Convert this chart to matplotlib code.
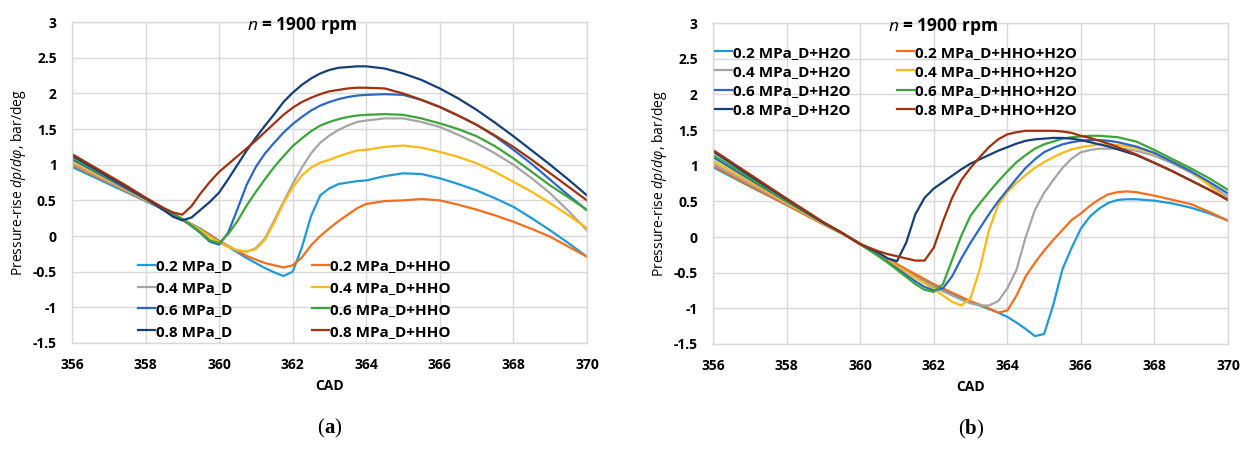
import matplotlib
matplotlib.use("Agg")
import matplotlib.pyplot as plt
from matplotlib.offsetbox import TextArea, HPacker, AnchoredOffsetbox

plt.rcParams["font.family"] = ["Open Sans", "DejaVu Sans"]
plt.rcParams["mathtext.fontset"] = "custom"
plt.rcParams["mathtext.rm"] = "Open Sans"
plt.rcParams["mathtext.it"] = "Open Sans:italic"
plt.rcParams["mathtext.bf"] = "Open Sans:bold"

# ---- (a) diesel vs diesel+HHO ----
cad_a = [356, 356.5, 357, 357.5, 358, 358.5, 358.75, 359, 359.25, 359.5, 359.75,
         360, 360.25, 360.5, 360.75, 361, 361.25, 361.5, 361.75, 362, 362.25, 362.5,
         362.75, 363, 363.25, 363.5, 363.75, 364, 364.5, 365, 365.5, 366, 366.5, 367,
         367.5, 368, 368.5, 369, 369.5, 370]

a_d02 = [0.97, 0.85, 0.73, 0.61, 0.49, 0.37, 0.30, 0.23, 0.17, 0.10, 0.02,
         -0.07, -0.15, -0.23, -0.31, -0.38, -0.45, -0.51, -0.56, -0.50, -0.16, 0.28,
         0.57, 0.67, 0.73, 0.75, 0.77, 0.78, 0.84, 0.88, 0.87, 0.81, 0.73, 0.64,
         0.53, 0.41, 0.25, 0.08, -0.10, -0.29]
a_h02 = [1.00, 0.87, 0.75, 0.62, 0.50, 0.37, 0.30, 0.23, 0.16, 0.09, 0.01,
         -0.07, -0.14, -0.21, -0.28, -0.33, -0.38, -0.41, -0.44, -0.41, -0.30, -0.13,
         0.00, 0.11, 0.21, 0.30, 0.39, 0.45, 0.49, 0.50, 0.52, 0.50, 0.44, 0.37,
         0.29, 0.20, 0.10, -0.01, -0.15, -0.29]
a_d04 = [1.02, 0.89, 0.76, 0.63, 0.50, 0.37, 0.30, 0.23, 0.16, 0.08, -0.01,
         -0.09, -0.15, -0.20, -0.22, -0.17, -0.03, 0.22, 0.48, 0.73, 0.96, 1.16,
         1.31, 1.41, 1.49, 1.55, 1.60, 1.62, 1.65, 1.65, 1.60, 1.53, 1.42, 1.30,
         1.16, 1.00, 0.81, 0.60, 0.35, 0.08]
a_h04 = [1.05, 0.91, 0.78, 0.65, 0.51, 0.38, 0.31, 0.24, 0.16, 0.08, -0.01,
         -0.09, -0.15, -0.20, -0.22, -0.18, -0.05, 0.19, 0.46, 0.68, 0.85, 0.96,
         1.03, 1.07, 1.12, 1.16, 1.20, 1.21, 1.25, 1.27, 1.24, 1.18, 1.11, 1.02,
         0.90, 0.76, 0.62, 0.46, 0.29, 0.11]
a_d06 = [1.08, 0.94, 0.80, 0.66, 0.52, 0.38, 0.31, 0.23, 0.14, 0.04, -0.08,
         -0.12, 0.05, 0.38, 0.72, 0.97, 1.16, 1.31, 1.45, 1.57, 1.67, 1.76,
         1.83, 1.88, 1.92, 1.95, 1.97, 1.98, 1.99, 1.98, 1.91, 1.81, 1.69, 1.56,
         1.40, 1.21, 1.01, 0.79, 0.57, 0.36]
a_h06 = [1.10, 0.96, 0.82, 0.68, 0.53, 0.39, 0.32, 0.24, 0.15, 0.05, -0.06,
         -0.10, 0.03, 0.21, 0.43, 0.62, 0.80, 0.97, 1.12, 1.26, 1.37, 1.47,
         1.55, 1.60, 1.64, 1.67, 1.69, 1.70, 1.71, 1.70, 1.65, 1.58, 1.50, 1.40,
         1.26, 1.09, 0.90, 0.71, 0.54, 0.37]
a_d08 = [1.13, 0.98, 0.83, 0.68, 0.53, 0.36, 0.27, 0.22, 0.26, 0.37, 0.48,
         0.61, 0.80, 1.00, 1.20, 1.38, 1.55, 1.71, 1.88, 2.01, 2.12, 2.21,
         2.28, 2.33, 2.36, 2.37, 2.38, 2.38, 2.35, 2.28, 2.19, 2.07, 1.93, 1.77,
         1.59, 1.40, 1.20, 1.00, 0.79, 0.57]
a_h08 = [1.15, 1.00, 0.85, 0.70, 0.54, 0.39, 0.33, 0.30, 0.42, 0.60, 0.76,
         0.90, 1.01, 1.12, 1.23, 1.34, 1.46, 1.58, 1.70, 1.80, 1.88, 1.94,
         1.99, 2.03, 2.05, 2.07, 2.08, 2.08, 2.07, 2.00, 1.91, 1.81, 1.69, 1.56,
         1.41, 1.25, 1.07, 0.88, 0.69, 0.50]

# ---- (b) with water injection ----
cad_b = [356, 357, 358, 359, 359.5, 360, 360.5, 360.75, 361, 361.25, 361.5, 361.75,
         362, 362.25, 362.5, 362.75, 363, 363.25, 363.5, 363.75, 364, 364.25, 364.5,
         364.75, 365, 365.25, 365.5, 365.75, 366, 366.25, 366.5, 366.75, 367, 367.25,
         367.5, 368, 368.5, 369, 369.5, 370]

b_d02 = [0.98, 0.71, 0.45, 0.18, 0.05, -0.09, -0.25, -0.33, -0.40, -0.47, -0.55, -0.62,
         -0.69, -0.75, -0.80, -0.86, -0.91, -0.96, -1.01, -1.06, -1.12, -1.20, -1.29,
         -1.39, -1.36, -0.95, -0.45, -0.15, 0.12, 0.29, 0.40, 0.48, 0.52, 0.53,
         0.53, 0.51, 0.47, 0.41, 0.33, 0.23]
b_h02 = [1.00, 0.72, 0.45, 0.18, 0.05, -0.09, -0.24, -0.31, -0.38, -0.45, -0.52, -0.59,
         -0.66, -0.72, -0.78, -0.84, -0.90, -0.95, -1.00, -1.06, -1.03, -0.82, -0.55,
         -0.36, -0.19, -0.04, 0.10, 0.24, 0.33, 0.44, 0.53, 0.60, 0.63, 0.64,
         0.63, 0.58, 0.52, 0.46, 0.35, 0.23]
b_d04 = [1.03, 0.75, 0.47, 0.19, 0.05, -0.09, -0.25, -0.33, -0.41, -0.48, -0.56, -0.63,
         -0.70, -0.76, -0.82, -0.88, -0.93, -0.96, -0.96, -0.90, -0.72, -0.46, 0.00,
         0.38, 0.62, 0.80, 0.97, 1.10, 1.19, 1.22, 1.24, 1.24, 1.24, 1.23,
         1.21, 1.14, 1.03, 0.90, 0.74, 0.56]
b_h04 = [1.07, 0.78, 0.48, 0.19, 0.05, -0.09, -0.25, -0.33, -0.41, -0.49, -0.57, -0.65,
         -0.73, -0.82, -0.91, -0.96, -0.86, -0.45, 0.10, 0.45, 0.63, 0.76, 0.87,
         0.97, 1.05, 1.12, 1.18, 1.23, 1.26, 1.28, 1.30, 1.30, 1.29, 1.27,
         1.25, 1.17, 1.06, 0.92, 0.72, 0.51]
b_d06 = [1.12, 0.81, 0.50, 0.20, 0.06, -0.10, -0.26, -0.35, -0.44, -0.53, -0.62, -0.70,
         -0.75, -0.72, -0.55, -0.30, -0.08, 0.12, 0.32, 0.50, 0.66, 0.82, 0.97,
         1.09, 1.19, 1.25, 1.30, 1.33, 1.35, 1.36, 1.36, 1.35, 1.33, 1.30,
         1.27, 1.18, 1.05, 0.92, 0.77, 0.61]
b_h06 = [1.15, 0.83, 0.51, 0.20, 0.06, -0.10, -0.27, -0.36, -0.46, -0.56, -0.66, -0.74,
         -0.77, -0.66, -0.32, 0.02, 0.30, 0.47, 0.63, 0.78, 0.92, 1.05, 1.15,
         1.24, 1.30, 1.34, 1.38, 1.40, 1.41, 1.42, 1.42, 1.41, 1.40, 1.37,
         1.34, 1.22, 1.09, 0.96, 0.82, 0.66]
b_d08 = [1.20, 0.86, 0.53, 0.20, 0.06, -0.10, -0.22, -0.30, -0.34, -0.08, 0.32, 0.55,
         0.68, 0.77, 0.86, 0.95, 1.03, 1.09, 1.15, 1.21, 1.26, 1.31, 1.35,
         1.37, 1.38, 1.39, 1.39, 1.38, 1.36, 1.33, 1.30, 1.27, 1.23, 1.19,
         1.15, 1.04, 0.92, 0.79, 0.66, 0.52]
b_h08 = [1.22, 0.88, 0.54, 0.21, 0.06, -0.10, -0.20, -0.24, -0.27, -0.30, -0.33, -0.33,
         -0.15, 0.22, 0.55, 0.80, 0.97, 1.12, 1.26, 1.37, 1.44, 1.47, 1.49,
         1.49, 1.49, 1.49, 1.48, 1.46, 1.42, 1.39, 1.35, 1.31, 1.26, 1.21,
         1.16, 1.04, 0.92, 0.79, 0.66, 0.52]

loads = ["0.2", "0.4", "0.6", "0.8"]
colors_d = ["#1f9ad7", "#a5a5a5", "#2a68c4", "#143f78"]
colors_h = ["#f36f1e", "#ffb914", "#3ba53a", "#a1300f"]

x_ticks = [356, 358, 360, 362, 364, 366, 368, 370]
y_ticks = [-1.5, -1, -0.5, 0, 0.5, 1, 1.5, 2, 2.5, 3]
y_tick_labels = ["-1.5", "-1", "-0.5", "0", "0.5", "1", "1.5", "2", "2.5", "3"]

fig = plt.figure(figsize=(12.47, 4.5), dpi=100)
ax_a = fig.add_axes([0.0577, 0.2378, 0.413, 0.713])
ax_b = fig.add_axes([0.5718, 0.2356, 0.413, 0.713])


def style_axes(ax):
    ax.set_xlim(356, 370)
    ax.set_ylim(-1.5, 3)
    ax.set_xticks(x_ticks)
    ax.set_xticklabels([str(t) for t in x_ticks])
    ax.set_yticks(y_ticks)
    ax.set_yticklabels(y_tick_labels)
    ax.tick_params(length=0, labelsize=10, pad=11)
    for lab in ax.get_xticklabels() + ax.get_yticklabels():
        lab.set_fontweight("bold")
    ax.grid(True, color="#d9d9d9", lw=1.0)
    ax.set_axisbelow(True)
    for sp in ax.spines.values():
        sp.set_color("#d9d9d9")
        sp.set_linewidth(1.0)
    ax.set_xlabel("CAD", fontsize=10, fontweight="bold", labelpad=5)
    ax.set_ylabel(r"Pressure-rise $dp/d\varphi$, bar/deg", fontsize=10, labelpad=3)
    ax.text(0.447, 0.99, r"$\mathbf{\mathit{n}}$ = 1900 rpm", transform=ax.transAxes,
            ha="center", va="center", fontsize=12.5, fontweight="bold")


def draw_panel(ax, cad, d_series, h_series, d_suffix, h_suffix, leg_pos, spacing):
    d_lines, h_lines = [], []
    for i in range(4):
        ld, = ax.plot(cad, d_series[i], color=colors_d[i], lw=1.6,
                      label=f"{loads[i]} MPa_{d_suffix}")
        lh, = ax.plot(cad, h_series[i], color=colors_h[i], lw=1.6,
                      label=f"{loads[i]} MPa_{h_suffix}")
        d_lines.append(ld)
        h_lines.append(lh)
    style_axes(ax)
    kw = dict(loc="upper left", frameon=False, borderpad=0, borderaxespad=0,
              handlelength=1.1, handletextpad=0.1, labelspacing=spacing,
              prop={"weight": "bold", "size": 11})
    leg1 = ax.legend(handles=d_lines, bbox_to_anchor=leg_pos[0], **kw)
    ax.add_artist(leg1)
    ax.legend(handles=h_lines, bbox_to_anchor=leg_pos[1], **kw)


draw_panel(ax_a, cad_a, [a_d02, a_d04, a_d06, a_d08], [a_h02, a_h04, a_h06, a_h08],
           "D", "D+HHO", [(0.128, 0.262), (0.466, 0.262)], 0.52)
draw_panel(ax_b, cad_b, [b_d02, b_d04, b_d06, b_d08], [b_h02, b_h04, b_h06, b_h08],
           "D+H2O", "D+HHO+H2O", [(0.004, 0.93), (0.357, 0.93)], 0.34)


def panel_tag(ax, letter):
    paren = dict(family="Liberation Serif", size=15)
    parts = [TextArea("(", textprops=paren),
             TextArea(letter, textprops=dict(paren, weight="bold")),
             TextArea(")", textprops=paren)]
    box = HPacker(children=parts, pad=0, sep=0)
    anch = AnchoredOffsetbox(loc="center", child=box, frameon=False, pad=0,
                             bbox_to_anchor=(0.5, -0.265),
                             bbox_transform=ax.transAxes, borderpad=0)
    ax.add_artist(anch)


panel_tag(ax_a, "a")
panel_tag(ax_b, "b")

fig.savefig("out.png", dpi=100)
